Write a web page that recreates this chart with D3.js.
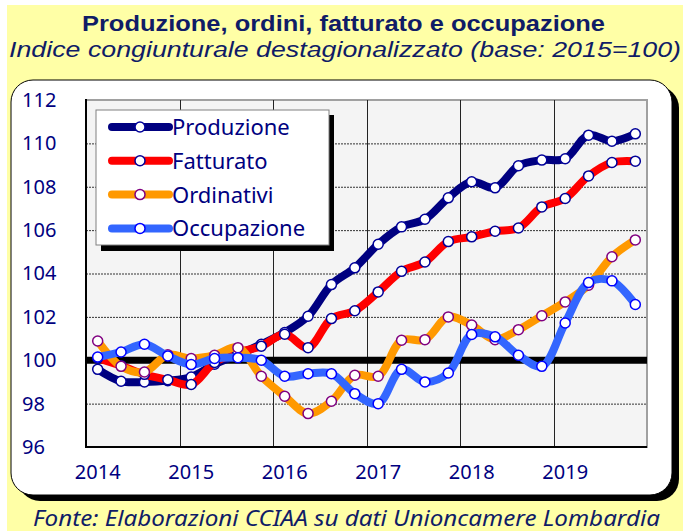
<!DOCTYPE html>
<html>
<head>
<meta charset="utf-8">
<script src="https://cdn.jsdelivr.net/npm/d3@7"></script>
<style>
  body { margin: 0; background: #fff; }
  svg { display: block; font-family: 'Noto Sans', sans-serif; }
</style>
</head>
<body>
<svg id="chart" width="683" height="531"></svg>
<script>
// quarters 2014 Q1 .. 2019 Q4
const years = ['2014', '2015', '2016', '2017', '2018', '2019']
const quarters = d3.range(24)

const produzione = [99.58, 99.03, 99.0, 99.06, 99.23, 99.82, 100.25, 100.74, 101.28, 102.03, 103.49, 104.26,
    105.35, 106.15, 106.5, 107.49, 108.23, 107.95, 108.97, 109.23, 109.29, 110.38, 110.1, 110.44]
const fatturato = [100.1, 99.75, 99.35, 99.1, 98.88, 99.9, 100.35, 100.65, 101.2, 100.58, 101.92, 102.28,
    103.15, 104.1, 104.53, 105.47, 105.69, 105.95, 106.1, 107.07, 107.46, 108.5, 109.12, 109.18]
const ordinativi = [100.89, 99.72, 99.46, 100.25, 100.08, 100.23, 100.58, 99.26, 98.34, 97.54, 98.11, 99.31,
    99.26, 100.92, 100.95, 102.0, 101.62, 100.95, 101.41, 102.05, 102.69, 103.46, 104.77, 105.55]
const occupazione = [100.15, 100.38, 100.74, 100.2, 99.8, 100.08, 100.12, 100.0, 99.26, 99.38, 99.38, 98.46,
    98.0, 99.58, 99.0, 99.41, 101.19, 101.08, 100.23, 99.72, 101.72, 103.58, 103.66, 102.57]

const yTicks = [96, 98, 100, 102, 104, 106, 108, 110, 112]

const series = [
    {name: 'Produzione', values: produzione, color: '#000080', marker: '#000099'},
    {name: 'Fatturato', values: fatturato, color: '#ff0000', marker: '#000099'},
    {name: 'Ordinativi', values: ordinativi, color: '#ff9900', marker: '#800080'},
    {name: 'Occupazione', values: occupazione, color: '#3366ff', marker: '#0000ff'}
]

const navy = '#000080'
const plot = {left: 86, right: 647, top: 100, bottom: 447}

const svg = d3.select('#chart')

// background panel
svg.append('rect').attr('x', 7).attr('y', 5).attr('width', 676).attr('height', 526).attr('fill', '#ffffa6')

svg.append('rect')
    .attr('x', 18).attr('y', 86).attr('width', 661).attr('height', 415)
    .attr('rx', 22).attr('fill', '#000')
svg.append('rect')
    .attr('x', 11).attr('y', 80).attr('width', 661).attr('height', 415)
    .attr('rx', 22).attr('fill', '#fff').attr('stroke', '#000').attr('stroke-width', 1)

// titles (Liberation metrics keep the two lines apart)
svg.append('text')
    .attr('x', 82).attr('y', 31)
    .attr('textLength', 523).attr('lengthAdjust', 'spacingAndGlyphs')
    .attr('font-family', "'Liberation Sans', sans-serif")
    .attr('font-size', 22).attr('font-weight', 'bold').attr('fill', '#101c66')
    .text('Produzione, ordini, fatturato e occupazione')
svg.append('text')
    .attr('x', 9).attr('y', 57)
    .attr('textLength', 672).attr('lengthAdjust', 'spacingAndGlyphs')
    .attr('font-family', "'Liberation Sans', sans-serif")
    .attr('font-size', 22).attr('font-style', 'italic').attr('fill', '#101c66')
    .text('Indice congiunturale destagionalizzato (base: 2015=100)')
svg.append('text')
    .attr('x', 33).attr('y', 526)
    .attr('textLength', 627).attr('lengthAdjust', 'spacingAndGlyphs')
    .attr('font-size', 21).attr('font-style', 'italic').attr('fill', '#101c66')
    .text('Fonte: Elaborazioni CCIAA su dati Unioncamere Lombardia')

// scales
const x = d3.scaleBand().domain(quarters).range([plot.left, plot.right]).padding(0)
const cx = i => x(i) + x.bandwidth() / 2
const y = d3.scaleLinear().domain([96, 112]).range([plot.bottom, plot.top])

svg.append('rect')
    .attr('x', plot.left).attr('y', plot.top)
    .attr('width', plot.right - plot.left).attr('height', plot.bottom - plot.top)
    .attr('fill', '#f4f4f4').attr('stroke', '#a0a0a0').attr('stroke-width', 2)

// grid
const grid = svg.append('g')
grid.selectAll('line.h').data(yTicks.filter(d => d > 96 && d < 112 && d !== 100))
    .enter().append('line')
    .attr('x1', plot.left).attr('x2', plot.right)
    .attr('y1', d => y(d) + .5).attr('y2', d => y(d) + .5)
    .attr('stroke', '#333').attr('stroke-dasharray', '2,1')
grid.selectAll('line.v').data(years.slice(1))
    .enter().append('line')
    .attr('x1', (d, i) => Math.round(x((i + 1) * 4)) + .5)
    .attr('x2', (d, i) => Math.round(x((i + 1) * 4)) + .5)
    .attr('y1', plot.top).attr('y2', plot.bottom)
    .attr('stroke', '#222')

// axes lines
svg.append('line')
    .attr('x1', plot.left).attr('x2', plot.left).attr('y1', plot.top - 1).attr('y2', plot.bottom + 1)
    .attr('stroke', '#000').attr('stroke-width', 2)
svg.append('line')
    .attr('x1', plot.left).attr('x2', plot.right).attr('y1', plot.bottom).attr('y2', plot.bottom)
    .attr('stroke', '#000').attr('stroke-width', 2)

// base 100
svg.append('line')
    .attr('x1', plot.left).attr('x2', plot.right)
    .attr('y1', y(100)).attr('y2', y(100))
    .attr('stroke', '#000').attr('stroke-width', 7)

// y labels
const yAxis = svg.append('g')
    .call(d3.axisLeft(y).tickValues(yTicks).tickSize(0))
yAxis.select('.domain').remove()
yAxis.selectAll('text')
    .attr('x', 22).attr('text-anchor', 'start')
    .attr('font-family', "'Noto Sans', sans-serif").attr('font-size', 20).attr('fill', navy)

// x labels
const xAxis = svg.append('g')
    .attr('transform', `translate(0, ${plot.bottom})`)
    .call(d3.axisBottom(x).tickValues(d3.range(0, 24, 4)).tickSize(0).tickFormat(d => years[d / 4]))
xAxis.select('.domain').remove()
xAxis.selectAll('text')
    .attr('y', 18)
    .attr('font-family', "'Noto Sans', sans-serif").attr('font-size', 20).attr('fill', navy)
xAxis.selectAll('.tick').attr('transform', d => `translate(${cx(d)}, 0)`)

// series
const line = d3.line()
    .x((d, i) => cx(i))
    .y(d => y(d))
    .curve(d3.curveCatmullRom.alpha(0.5))

series.forEach(s => {
    const g = svg.append('g')
    g.append('path')
        .attr('d', line(s.values))
        .attr('fill', 'none')
        .attr('stroke', s.color)
        .attr('stroke-width', 8)
        .attr('stroke-linejoin', 'round')
    g.selectAll('circle').data(s.values)
        .enter().append('circle')
        .attr('cx', (d, i) => cx(i))
        .attr('cy', d => y(d))
        .attr('r', 5)
        .attr('fill', '#fff')
        .attr('stroke', s.marker)
        .attr('stroke-width', 1.5)
})

// legend
const legend = svg.append('g')
legend.append('rect').attr('x', 101).attr('y', 115).attr('width', 233).attr('height', 136).attr('fill', '#000')
legend.append('rect').attr('x', 96).attr('y', 110).attr('width', 233).attr('height', 135)
    .attr('fill', '#fff').attr('stroke', '#808080')

const row = legend.selectAll('g.item').data(series)
    .enter().append('g')
    .attr('transform', (d, i) => `translate(0, ${127 + i * 33.8})`)
row.append('line')
    .attr('x1', 112).attr('x2', 169)
    .attr('stroke', d => d.color).attr('stroke-width', 8).attr('stroke-linecap', 'round')
row.append('circle')
    .attr('cx', 140).attr('r', 5)
    .attr('fill', '#fff').attr('stroke', d => d.marker).attr('stroke-width', 1.5)
row.append('text')
    .attr('x', 172).attr('dy', '0.36em')
    .attr('font-size', 22).attr('fill', navy)
    .text(d => d.name)
</script>
</body>
</html>
